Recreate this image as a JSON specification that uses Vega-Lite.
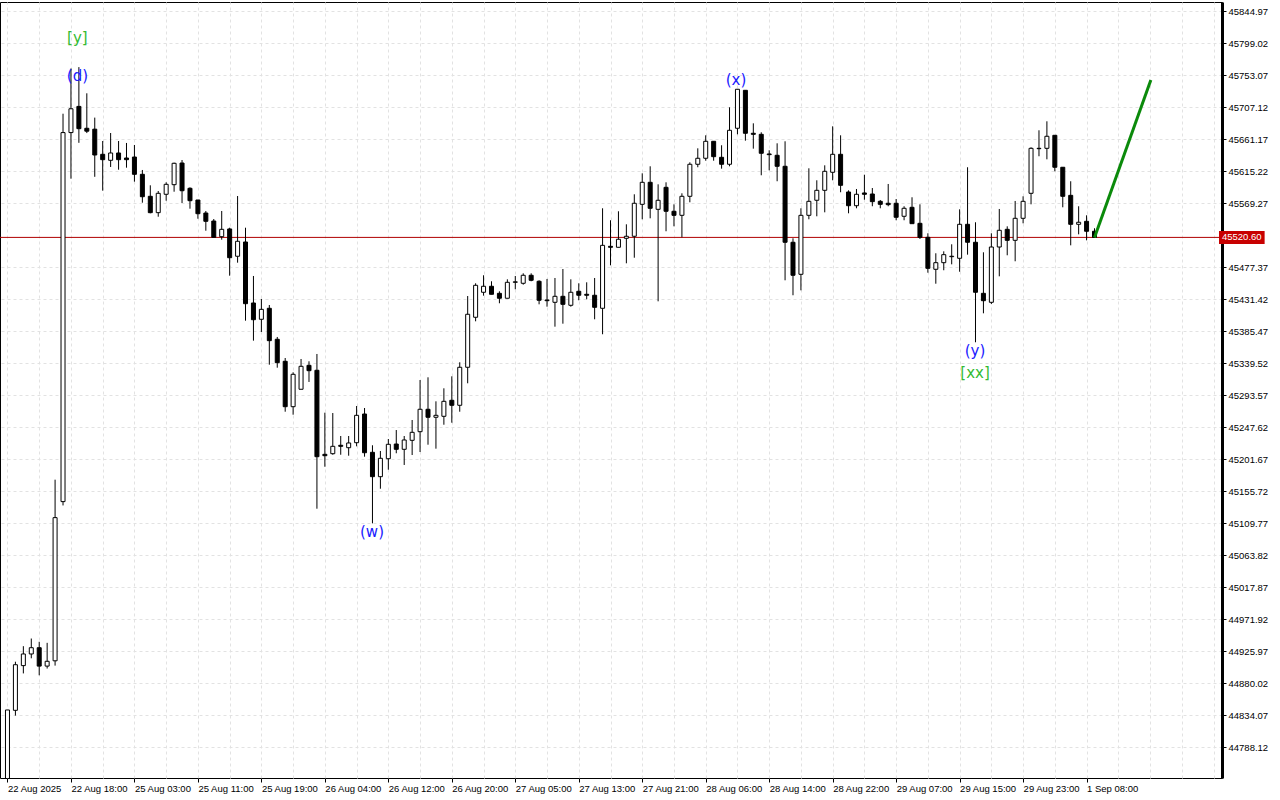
{
  "$schema": "https://vega.github.io/schema/vega-lite/v6.json",
  "width": 1222,
  "height": 776,
  "autosize": {"type": "none"},
  "padding": {"left": 0, "top": 2, "right": 58, "bottom": 22},
  "background": "#ffffff",
  "config": {
    "view": {"stroke": "#000000", "strokeWidth": 1},
    "axis": {"labelFont": "Liberation Sans", "labelFontSize": 9.5, "labelColor": "#000000", "tickColor": "#000000", "domainColor": "#000000", "gridColor": "#e2e2e2", "gridDash": [3, 3], "gridWidth": 1, "title": null, "labelOverlap": false}
  },
  "datasets": {
    "candles": [
      {"i":0,"o":44730,"h":44842,"l":44700,"c":44842},
      {"i":1,"o":44841.5,"h":44911.3,"l":44833.9,"c":44907.0},
      {"i":2,"o":44905.7,"h":44933.6,"l":44894.5,"c":44922.4},
      {"i":3,"o":44922.4,"h":44944.6,"l":44916.2,"c":44931.4},
      {"i":4,"o":44931.4,"h":44939.9,"l":44891.8,"c":44905.0},
      {"i":5,"o":44905.0,"h":44938.4,"l":44901.5,"c":44911.9},
      {"i":6,"o":44912.6,"h":45172.7,"l":44905.7,"c":45118.2},
      {"i":7,"o":45141.2,"h":45698.2,"l":45135.7,"c":45671.1},
      {"i":8,"o":45671.1,"h":45763.1,"l":45604.9,"c":45705.3},
      {"i":9,"o":45708.7,"h":45765.1,"l":45656.4,"c":45676.7},
      {"i":10,"o":45677.3,"h":45727.5,"l":45670.4,"c":45673.1},
      {"i":11,"o":45676.0,"h":45692.6,"l":45607.6,"c":45638.9},
      {"i":12,"o":45639.9,"h":45659.0,"l":45587.7,"c":45632.2},
      {"i":13,"o":45631.3,"h":45670.5,"l":45621.7,"c":45641.8},
      {"i":14,"o":45641.8,"h":45659.0,"l":45617.8,"c":45632.2},
      {"i":15,"o":45634.6,"h":45656.2,"l":45620.7,"c":45632.2},
      {"i":16,"o":45636.0,"h":45653.3,"l":45600.6,"c":45611.2},
      {"i":17,"o":45611.2,"h":45617.4,"l":45570.4,"c":45579.0},
      {"i":18,"o":45579.6,"h":45595.4,"l":45555.2,"c":45556.1},
      {"i":19,"o":45556.1,"h":45587.2,"l":45550.3,"c":45583.9},
      {"i":20,"o":45582.5,"h":45599.7,"l":45573.3,"c":45596.8},
      {"i":21,"o":45596.3,"h":45627.9,"l":45586.2,"c":45627.0},
      {"i":22,"o":45627.4,"h":45631.7,"l":45570.0,"c":45587.6},
      {"i":23,"o":45591.1,"h":45592.5,"l":45561.8,"c":45573.3},
      {"i":24,"o":45574.3,"h":45574.3,"l":45547.4,"c":45554.6},
      {"i":25,"o":45555.6,"h":45558.5,"l":45530.2,"c":45543.7},
      {"i":26,"o":45544.1,"h":45547.0,"l":45520.7,"c":45520.7},
      {"i":27,"o":45521.6,"h":45558.5,"l":45517.3,"c":45532.2},
      {"i":28,"o":45532.7,"h":45534.5,"l":45465.6,"c":45491.4},
      {"i":29,"o":45493.5,"h":45580.0,"l":45484.3,"c":45515.0},
      {"i":30,"o":45514.0,"h":45534.5,"l":45401.0,"c":45425.4},
      {"i":31,"o":45426.4,"h":45465.2,"l":45372.3,"c":45402.4},
      {"i":32,"o":45403.0,"h":45432.2,"l":45384.8,"c":45417.3},
      {"i":33,"o":45418.8,"h":45423.5,"l":45337.8,"c":45372.3},
      {"i":34,"o":45374.3,"h":45377.6,"l":45333.5,"c":45340.7},
      {"i":35,"o":45342.7,"h":45347.4,"l":45270.3,"c":45277.5},
      {"i":36,"o":45277.5,"h":45326.9,"l":45266.0,"c":45324.0},
      {"i":37,"o":45302.5,"h":45346.0,"l":45302.5,"c":45335.5},
      {"i":38,"o":45336.9,"h":45342.7,"l":45313.0,"c":45329.2},
      {"i":39,"o":45329.8,"h":45353.2,"l":45131.0,"c":45205.7},
      {"i":40,"o":45209.1,"h":45268.9,"l":45191.3,"c":45207.1},
      {"i":41,"o":45210.0,"h":45268.4,"l":45208.5,"c":45220.6},
      {"i":42,"o":45222.1,"h":45235.4,"l":45208.5,"c":45220.6},
      {"i":43,"o":45218.6,"h":45235.4,"l":45207.1,"c":45225.4},
      {"i":44,"o":45225.8,"h":45278.5,"l":45220.6,"c":45265.1},
      {"i":45,"o":45267.0,"h":45275.6,"l":45205.7,"c":45211.4},
      {"i":46,"o":45212.0,"h":45222.1,"l":45110.0,"c":45177.0},
      {"i":47,"o":45177.0,"h":45213.9,"l":45159.7,"c":45203.4},
      {"i":48,"o":45202.8,"h":45231.1,"l":45187.0,"c":45223.5},
      {"i":49,"o":45223.9,"h":45244.0,"l":45210.6,"c":45216.3},
      {"i":50,"o":45216.3,"h":45235.4,"l":45193.8,"c":45229.7},
      {"i":51,"o":45229.2,"h":45258.4,"l":45208.1,"c":45240.7},
      {"i":52,"o":45241.6,"h":45315.8,"l":45212.4,"c":45273.8},
      {"i":53,"o":45273.8,"h":45319.7,"l":45222.9,"c":45262.3},
      {"i":54,"o":45262.3,"h":45285.2,"l":45217.2,"c":45265.1},
      {"i":55,"o":45263.7,"h":45303.9,"l":45251.6,"c":45285.2},
      {"i":56,"o":45286.7,"h":45321.1,"l":45254.5,"c":45279.5},
      {"i":57,"o":45279.5,"h":45341.3,"l":45270.3,"c":45334.1},
      {"i":58,"o":45334.1,"h":45436.4,"l":45311.1,"c":45410.2},
      {"i":59,"o":45405.9,"h":45454.7,"l":45400.1,"c":45451.8},
      {"i":60,"o":45441.8,"h":45466.2,"l":45436.9,"c":45450.4},
      {"i":61,"o":45450.4,"h":45457.6,"l":45438.9,"c":45438.9},
      {"i":62,"o":45440.3,"h":45443.2,"l":45426.0,"c":45433.2},
      {"i":63,"o":45433.2,"h":45460.4,"l":45433.2,"c":45456.1},
      {"i":64,"o":45456.1,"h":45465.2,"l":45446.1,"c":45456.8},
      {"i":65,"o":45454.7,"h":45469.0,"l":45452.7,"c":45466.2},
      {"i":66,"o":45466.2,"h":45469.0,"l":45457.6,"c":45459.0},
      {"i":67,"o":45457.6,"h":45459.0,"l":45424.5,"c":45430.3},
      {"i":68,"o":45430.7,"h":45460.9,"l":45421.1,"c":45429.7},
      {"i":69,"o":45427.4,"h":45462.3,"l":45392.4,"c":45436.0},
      {"i":70,"o":45436.0,"h":45475.2,"l":45396.7,"c":45424.5},
      {"i":71,"o":45423.1,"h":45460.4,"l":45421.1,"c":45441.8},
      {"i":72,"o":45443.2,"h":45454.7,"l":45430.3,"c":45437.5},
      {"i":73,"o":45438.9,"h":45456.1,"l":45431.7,"c":45437.5},
      {"i":74,"o":45437.5,"h":45462.3,"l":45403.0,"c":45420.2},
      {"i":75,"o":45418.8,"h":45562.4,"l":45381.5,"c":45509.2},
      {"i":76,"o":45507.8,"h":45545.2,"l":45480.5,"c":45506.4},
      {"i":77,"o":45506.4,"h":45558.1,"l":45506.4,"c":45517.9},
      {"i":78,"o":45519.3,"h":45539.4,"l":45483.4,"c":45522.2},
      {"i":79,"o":45522.2,"h":45582.5,"l":45491.4,"c":45569.6},
      {"i":80,"o":45568.1,"h":45612.6,"l":45546.6,"c":45599.7},
      {"i":81,"o":45599.7,"h":45622.7,"l":45548.0,"c":45562.4},
      {"i":82,"o":45560.9,"h":45596.8,"l":45428.8,"c":45573.9},
      {"i":83,"o":45592.5,"h":45599.7,"l":45529.4,"c":45558.1},
      {"i":84,"o":45558.1,"h":45568.1,"l":45536.5,"c":45552.3},
      {"i":85,"o":45552.3,"h":45583.9,"l":45520.7,"c":45579.6},
      {"i":86,"o":45579.6,"h":45628.4,"l":45571.0,"c":45625.6},
      {"i":87,"o":45625.6,"h":45648.5,"l":45621.3,"c":45634.2},
      {"i":88,"o":45634.2,"h":45667.2,"l":45630.7,"c":45658.6},
      {"i":89,"o":45658.6,"h":45658.6,"l":45630.7,"c":45636.5},
      {"i":90,"o":45635.6,"h":45652.9,"l":45619.3,"c":45625.6},
      {"i":91,"o":45625.6,"h":45707.4,"l":45622.7,"c":45674.4},
      {"i":92,"o":45677.3,"h":45733.3,"l":45668.6,"c":45733.3},
      {"i":93,"o":45731.8,"h":45731.8,"l":45659.5,"c":45670.1},
      {"i":94,"o":45670.1,"h":45684.4,"l":45648.0,"c":45668.6},
      {"i":95,"o":45668.6,"h":45671.5,"l":45609.8,"c":45641.4},
      {"i":96,"o":45640.4,"h":45645.7,"l":45616.9,"c":45639.4},
      {"i":97,"o":45638.5,"h":45655.7,"l":45601.2,"c":45622.7},
      {"i":98,"o":45622.7,"h":45658.6,"l":45459.0,"c":45513.6},
      {"i":99,"o":45513.6,"h":45519.3,"l":45437.5,"c":45466.2},
      {"i":100,"o":45467.6,"h":45562.4,"l":45444.6,"c":45552.3},
      {"i":101,"o":45552.3,"h":45619.8,"l":45546.6,"c":45572.4},
      {"i":102,"o":45573.9,"h":45602.6,"l":45550.9,"c":45588.2},
      {"i":103,"o":45588.2,"h":45624.1,"l":45556.6,"c":45615.5},
      {"i":104,"o":45614.1,"h":45680.1,"l":45602.6,"c":45639.9},
      {"i":105,"o":45639.9,"h":45667.2,"l":45585.4,"c":45595.4},
      {"i":106,"o":45585.8,"h":45588.2,"l":45555.2,"c":45566.1},
      {"i":107,"o":45566.1,"h":45590.1,"l":45562.4,"c":45582.5},
      {"i":108,"o":45584.4,"h":45610.6,"l":45574.7,"c":45582.5},
      {"i":109,"o":45582.9,"h":45591.5,"l":45565.3,"c":45571.9},
      {"i":110,"o":45572.4,"h":45574.3,"l":45562.4,"c":45568.1},
      {"i":111,"o":45569.6,"h":45597.3,"l":45565.3,"c":45567.6},
      {"i":112,"o":45569.6,"h":45575.7,"l":45545.2,"c":45549.5},
      {"i":113,"o":45550.9,"h":45565.3,"l":45545.2,"c":45562.4},
      {"i":114,"o":45563.8,"h":45578.2,"l":45540.3,"c":45540.3},
      {"i":115,"o":45540.8,"h":45568.1,"l":45518.3,"c":45520.7},
      {"i":116,"o":45520.7,"h":45526.5,"l":45469.9,"c":45476.2},
      {"i":117,"o":45474.8,"h":45497.8,"l":45454.1,"c":45484.3},
      {"i":118,"o":45484.3,"h":45500.6,"l":45473.4,"c":45495.8},
      {"i":119,"o":45492.9,"h":45510.7,"l":45481.9,"c":45493.5},
      {"i":120,"o":45490.6,"h":45560.9,"l":45471.3,"c":45539.4},
      {"i":121,"o":45539.4,"h":45621.3,"l":45495.8,"c":45513.6},
      {"i":122,"o":45513.6,"h":45542.3,"l":45370.0,"c":45441.8},
      {"i":123,"o":45440.3,"h":45499.2,"l":45411.6,"c":45429.7},
      {"i":124,"o":45427.4,"h":45526.5,"l":45425.0,"c":45506.8},
      {"i":125,"o":45506.8,"h":45561.4,"l":45464.7,"c":45530.8},
      {"i":126,"o":45532.2,"h":45536.5,"l":45494.9,"c":45516.4},
      {"i":127,"o":45516.4,"h":45572.9,"l":45486.3,"c":45548.0},
      {"i":128,"o":45548.0,"h":45579.6,"l":45540.8,"c":45572.4},
      {"i":129,"o":45583.9,"h":45650.0,"l":45568.1,"c":45648.5},
      {"i":130,"o":45648.0,"h":45674.4,"l":45637.1,"c":45648.5},
      {"i":131,"o":45648.5,"h":45687.3,"l":45632.7,"c":45665.8},
      {"i":132,"o":45667.2,"h":45667.2,"l":45615.5,"c":45621.3},
      {"i":133,"o":45621.3,"h":45621.3,"l":45563.8,"c":45579.6},
      {"i":134,"o":45581.0,"h":45601.2,"l":45509.2,"c":45539.4},
      {"i":135,"o":45539.4,"h":45565.3,"l":45525.0,"c":45542.3},
      {"i":136,"o":45543.7,"h":45552.3,"l":45516.4,"c":45529.4},
      {"i":137,"o":45529.4,"h":45533.7,"l":45520.6,"c":45520.6}
    ],
    "arrow": [
      {"i": 137, "v": 45520.6},
      {"i": 144.1, "v": 45746.6}
    ],
    "labels": [
      {"i": 8.81, "v": 45806.9, "text": "[y]", "kind": "major"},
      {"i": 8.81, "v": 45752.4, "text": "(d)", "kind": "minor"},
      {"i": 45.94, "v": 45097.6, "text": "(w)", "kind": "minor"},
      {"i": 91.81, "v": 45746.6, "text": "(x)", "kind": "minor"},
      {"i": 121.94, "v": 45357.5, "text": "(y)", "kind": "minor"},
      {"i": 121.94, "v": 45325.9, "text": "[xx]", "kind": "major"}
    ],
    "price": [
      {"v": 45520.6, "text": "45520.60"}
    ]
  },
  "layer": [
    {
      "data": {"name": "price"},
      "mark": {"type": "rule", "color": "#b00000", "strokeWidth": 1},
      "encoding": {
        "y": {
          "field": "v", "type": "quantitative",
          "scale": {"domain": [44744.32, 45858.61], "zero": false, "nice": false},
          "axis": {
            "orient": "right",
            "values": [45844.97, 45799.02, 45753.07, 45707.12, 45661.17, 45615.22, 45569.27, 45477.37, 45431.42, 45385.47, 45339.52, 45293.57, 45247.62, 45201.67, 45155.72, 45109.77, 45063.82, 45017.87, 44971.92, 44925.97, 44880.02, 44834.07, 44788.12],
            "format": ".2f",
            "grid": true,
            "labelOverlap": false,
            "labelFlush": false,
            "tickSize": 4,
            "labelPadding": 2,
            "domainWidth": 3
          }
        }
      }
    },
    {
      "data": {"name": "candles"},
      "mark": {"type": "rule", "color": "#000000", "strokeWidth": 1, "clip": true},
      "encoding": {
        "x": {
          "field": "i", "type": "quantitative",
          "scale": {"domain": [-0.3125, 152.4375], "zero": false, "nice": false},
          "axis": {
            "orient": "bottom",
            "values": [0, 8, 16, 24, 32, 40, 48, 56, 64, 72, 80, 88, 96, 104, 112, 120, 128, 136],
            "labelExpr": "['22 Aug 2025','22 Aug 18:00','25 Aug 03:00','25 Aug 11:00','25 Aug 19:00','26 Aug 04:00','26 Aug 12:00','26 Aug 20:00','27 Aug 05:00','27 Aug 13:00','27 Aug 21:00','28 Aug 06:00','28 Aug 14:00','28 Aug 22:00','29 Aug 07:00','29 Aug 15:00','29 Aug 23:00','1 Sep 08:00'][round(datum.value/8)]",
            "labelAlign": "left",
            "labelPadding": 1,
            "labelFlush": false,
            "labelOverlap": false,
            "tickSize": 4,
            "grid": false,
            "domain": false
          }
        },
        "y": {"field": "l", "type": "quantitative", "axis": null},
        "y2": {"field": "h"}
      }
    },
    {
      "data": {"name": "candles"},
      "mark": {"type": "bar", "width": 4, "stroke": "#000000", "strokeWidth": 1, "clip": true},
      "encoding": {
        "x": {
          "field": "i", "type": "quantitative",
          "axis": {
            "orient": "top",
            "values": [0, 4, 8, 12, 16, 20, 24, 28, 32, 36, 40, 44, 48, 52, 56, 60, 64, 68, 72, 76, 80, 84, 88, 92, 96, 100, 104, 108, 112, 116, 120, 124, 128, 132, 136, 140, 144, 148, 152],
            "grid": true,
            "labels": false,
            "ticks": false,
            "domain": false
          }
        },
        "y": {"field": "o", "type": "quantitative", "axis": null},
        "y2": {"field": "c"},
        "fill": {"condition": {"test": "datum.c < datum.o", "value": "#000000"}, "value": "#ffffff"}
      }
    },
    {
      "data": {"name": "arrow"},
      "mark": {"type": "line", "color": "#0b8a0b", "strokeWidth": 3},
      "encoding": {
        "x": {"field": "i", "type": "quantitative", "axis": null},
        "y": {"field": "v", "type": "quantitative", "axis": null}
      }
    },
    {
      "data": {"name": "labels"},
      "mark": {"type": "text", "font": "DejaVu Sans", "fontSize": 15, "align": "center", "baseline": "middle"},
      "encoding": {
        "x": {"field": "i", "type": "quantitative", "axis": null},
        "y": {"field": "v", "type": "quantitative", "axis": null},
        "text": {"field": "text"},
        "color": {"field": "kind", "type": "nominal", "scale": {"domain": ["minor", "major"], "range": ["#1a1aff", "#33bb33"]}, "legend": null}
      }
    },
    {
      "data": {"name": "price"},
      "mark": {"type": "rule", "color": "#c80000", "strokeWidth": 13, "clip": false},
      "encoding": {
        "x": {"datum": 152.69, "type": "quantitative", "axis": null},
        "x2": {"datum": 158.44},
        "y": {"field": "v", "type": "quantitative", "axis": null}
      }
    },
    {
      "data": {"name": "price"},
      "mark": {"type": "text", "color": "#ffffff", "font": "Liberation Sans", "fontSize": 9.5, "align": "center", "baseline": "middle", "clip": false},
      "encoding": {
        "x": {"datum": 155.56, "type": "quantitative", "axis": null},
        "y": {"field": "v", "type": "quantitative", "axis": null},
        "text": {"field": "text"}
      }
    }
  ],
  "resolve": {"axis": {"x": "independent", "y": "independent"}}
}
